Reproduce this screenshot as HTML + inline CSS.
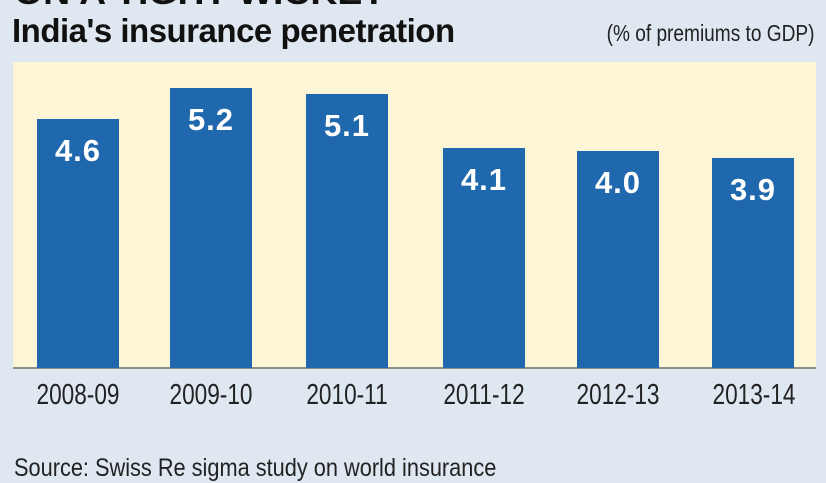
<!DOCTYPE html>
<html><head><meta charset="utf-8"><style>
*{margin:0;padding:0}
body{width:826px;height:465px;overflow:hidden;background:#dfe8f1;position:relative;font-family:"Liberation Sans",sans-serif}
.t0{position:absolute;left:14px;top:-26px;font-size:34px;font-weight:bold;color:#111;transform:scaleX(1.1);transform-origin:left}
.t1{position:absolute;left:12px;top:12px;font-size:33px;font-weight:bold;color:#111;transform:scaleX(1.0);transform-origin:left;letter-spacing:-0.5px;white-space:nowrap}
.t2{position:absolute;right:12px;top:20px;font-size:23px;color:#222;transform:scaleX(0.83);transform-origin:right;white-space:nowrap}
.panel{position:absolute;left:13px;top:62px;width:803px;height:306px;background:#fdf6d6}
.base{position:absolute;left:13px;top:367px;width:803px;height:2px;background:#8a8f8c}
.bar{position:absolute;background:#2068ad;width:82px;color:#fff;font-weight:bold;font-size:31px;text-align:center;padding-top:14px;box-sizing:border-box;letter-spacing:1px}
.lab{position:absolute;top:379px;width:130px;text-align:center;font-size:29px;color:#222;transform:scaleX(0.78);white-space:nowrap}
.src{position:absolute;left:14px;top:454px;font-size:25px;color:#222;transform:scaleX(0.87);transform-origin:left;white-space:nowrap}
</style></head><body>
<div class="t0">ON A TIGHT WICKET</div>
<div class="t1">India's insurance penetration</div>
<div class="t2">(% of premiums to GDP)</div>
<div class="panel"></div>
<div class="base"></div>
<div class="bar" style="left:37px;top:119px;height:249px">4.6</div>
<div class="bar" style="left:170px;top:88px;height:280px">5.2</div>
<div class="bar" style="left:306px;top:94px;height:274px">5.1</div>
<div class="bar" style="left:443px;top:148px;height:220px">4.1</div>
<div class="bar" style="left:577px;top:151px;height:217px">4.0</div>
<div class="bar" style="left:712px;top:158px;height:210px">3.9</div>
<div class="lab" style="left:13px">2008-09</div>
<div class="lab" style="left:146px">2009-10</div>
<div class="lab" style="left:282px">2010-11</div>
<div class="lab" style="left:419px">2011-12</div>
<div class="lab" style="left:553px">2012-13</div>
<div class="lab" style="left:689px">2013-14</div>
<div class="src">Source: Swiss Re sigma study on world insurance</div>
</body></html>
